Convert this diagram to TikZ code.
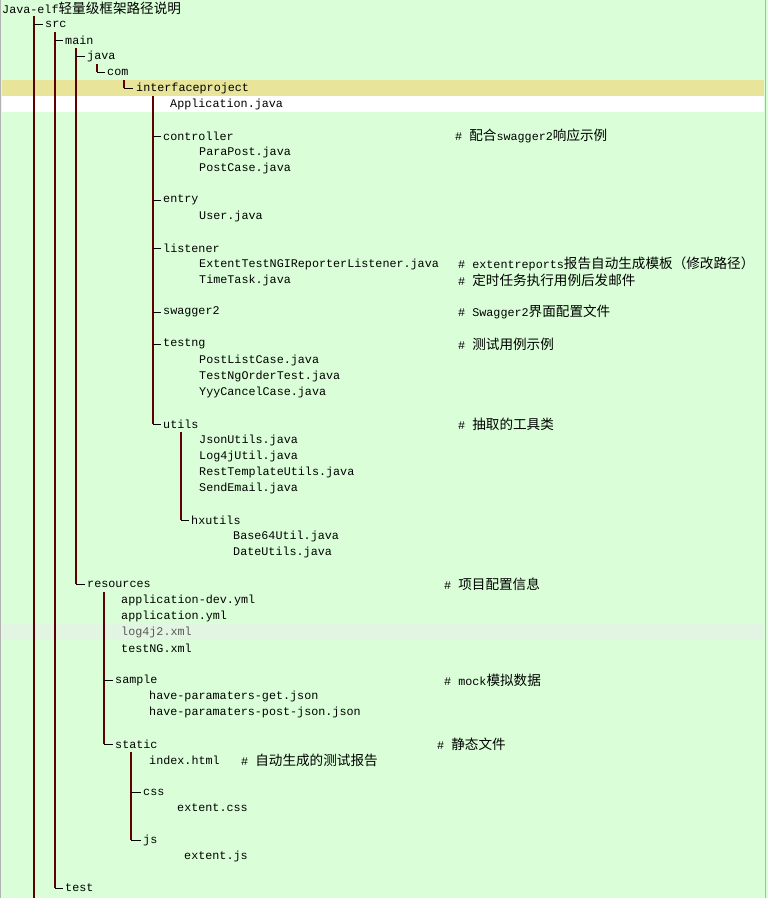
\documentclass[tikz,border=0pt]{standalone}
\usepackage{fontspec}
\setmonofont{Liberation Mono}
\newfontfamily\cjk{Noto Sans CJK SC}
\newcommand\zh[1]{{\cjk\fontsize{13.6}{14}\selectfont #1}}
\begin{document}
\begin{tikzpicture}[x=1pt,y=-1pt,
  t/.style={anchor=west,inner sep=0pt,font=\ttfamily\fontsize{11.75}{14}\selectfont},
  vl/.style={draw=black!40!red!60!black,line width=1.3pt},
  hl/.style={draw=black,line width=1pt}]
\useasboundingbox (0,0) rectangle (768,898);
\fill[fill={rgb,255:red,218;green,255;blue,216}] (0,0) rectangle (768,898);
\fill[draw=none,fill={rgb,255:red,232;green,228;blue,154}] (2,80) rectangle (764,96);
\fill[white] (2,96) rectangle (764,112);
\fill[fill={rgb,255:red,226;green,244;blue,226}] (2,624) rectangle (764,640);
\draw[gray!60] (765,0) -- (765,898);
\draw[gray!60] (0,0) -- (0,898);
% verticals
\foreach \x/\a/\b in {34/16/898,55/32/888,76/48/584,97/64/72,124/80/88,153/96/424,181/432/520,104/592/744,131/752/840}
  \draw[vl] (\x,\a) -- (\x,\b);
% horizontals
\foreach \x/\r/\e in {34/1/43,55/2/63,76/3/85,97/4/105,124/5/133,153/8/161,153/12/161,153/15/161,153/19/161,153/21/161,153/26/161,181/32/189,76/36/85,104/42/113,104/46/113,131/49/141,131/52/141,55/55/63}
  \draw[hl] (\x,8+16*\r) -- (\e,8+16*\r);
\newcommand\row[3]{\node[t] (n#1) at (#2,8+16*#1) {#3};}
\row{0}{2}{Java-elf\zh{轻量级框架路径说明}}
\row{1}{45}{src}
\row{2}{65}{main}
\row{3}{87}{java}
\row{4}{107}{com}
\row{5}{136}{interfaceproject}
\row{6}{170}{Application.java}
\row{8}{163}{controller}
\row{9}{199}{ParaPost.java}
\row{10}{199}{PostCase.java}
\row{12}{163}{entry}
\row{13}{199}{User.java}
\row{15}{163}{listener}
\row{16}{199}{ExtentTestNGIReporterListener.java}
\row{17}{199}{TimeTask.java}
\row{19}{163}{swagger2}
\row{21}{163}{testng}
\row{22}{199}{PostListCase.java}
\row{23}{199}{TestNgOrderTest.java}
\row{24}{199}{YyyCancelCase.java}
\row{26}{163}{utils}
\row{27}{199}{JsonUtils.java}
\row{28}{199}{Log4jUtil.java}
\row{29}{199}{RestTemplateUtils.java}
\row{30}{199}{SendEmail.java}
\row{32}{191}{hxutils}
\row{33}{233}{Base64Util.java}
\row{34}{233}{DateUtils.java}
\row{36}{87}{resources}
\row{37}{121}{application-dev.yml}
\row{38}{121}{application.yml}
\node[t,text=gray!70!black] (n39) at (121,8+16*39) {log4j2.xml};
\row{40}{121}{testNG.xml}
\row{42}{115}{sample}
\row{43}{149}{have-paramaters-get.json}
\row{44}{149}{have-paramaters-post-json.json}
\row{46}{115}{static}
\row{47}{149}{index.html}
\row{49}{143}{css}
\row{50}{177}{extent.css}
\row{52}{143}{js}
\row{53}{184}{extent.js}
\row{55}{65}{test}
% comments
\newcommand\cm[4]{\node[t] (c#1) at (#2,8+16*#3) {\# #4};}
\cm{8}{455}{8}{\zh{配合}swagger2\zh{响应示例}}
\cm{16}{458}{16}{extentreports\zh{报告自动生成模板（修改路径）}}
\cm{17}{458}{17}{\zh{定时任务执行用例后发邮件}}
\cm{19}{458}{19}{Swagger2\zh{界面配置文件}}
\cm{21}{458}{21}{\zh{测试用例示例}}
\cm{26}{458}{26}{\zh{抽取的工具类}}
\cm{36}{444}{36}{\zh{项目配置信息}}
\cm{42}{444}{42}{mock\zh{模拟数据}}
\cm{46}{437}{46}{\zh{静态文件}}
\cm{47}{241}{47}{\zh{自动生成的测试报告}}
\end{tikzpicture}
\end{document}
